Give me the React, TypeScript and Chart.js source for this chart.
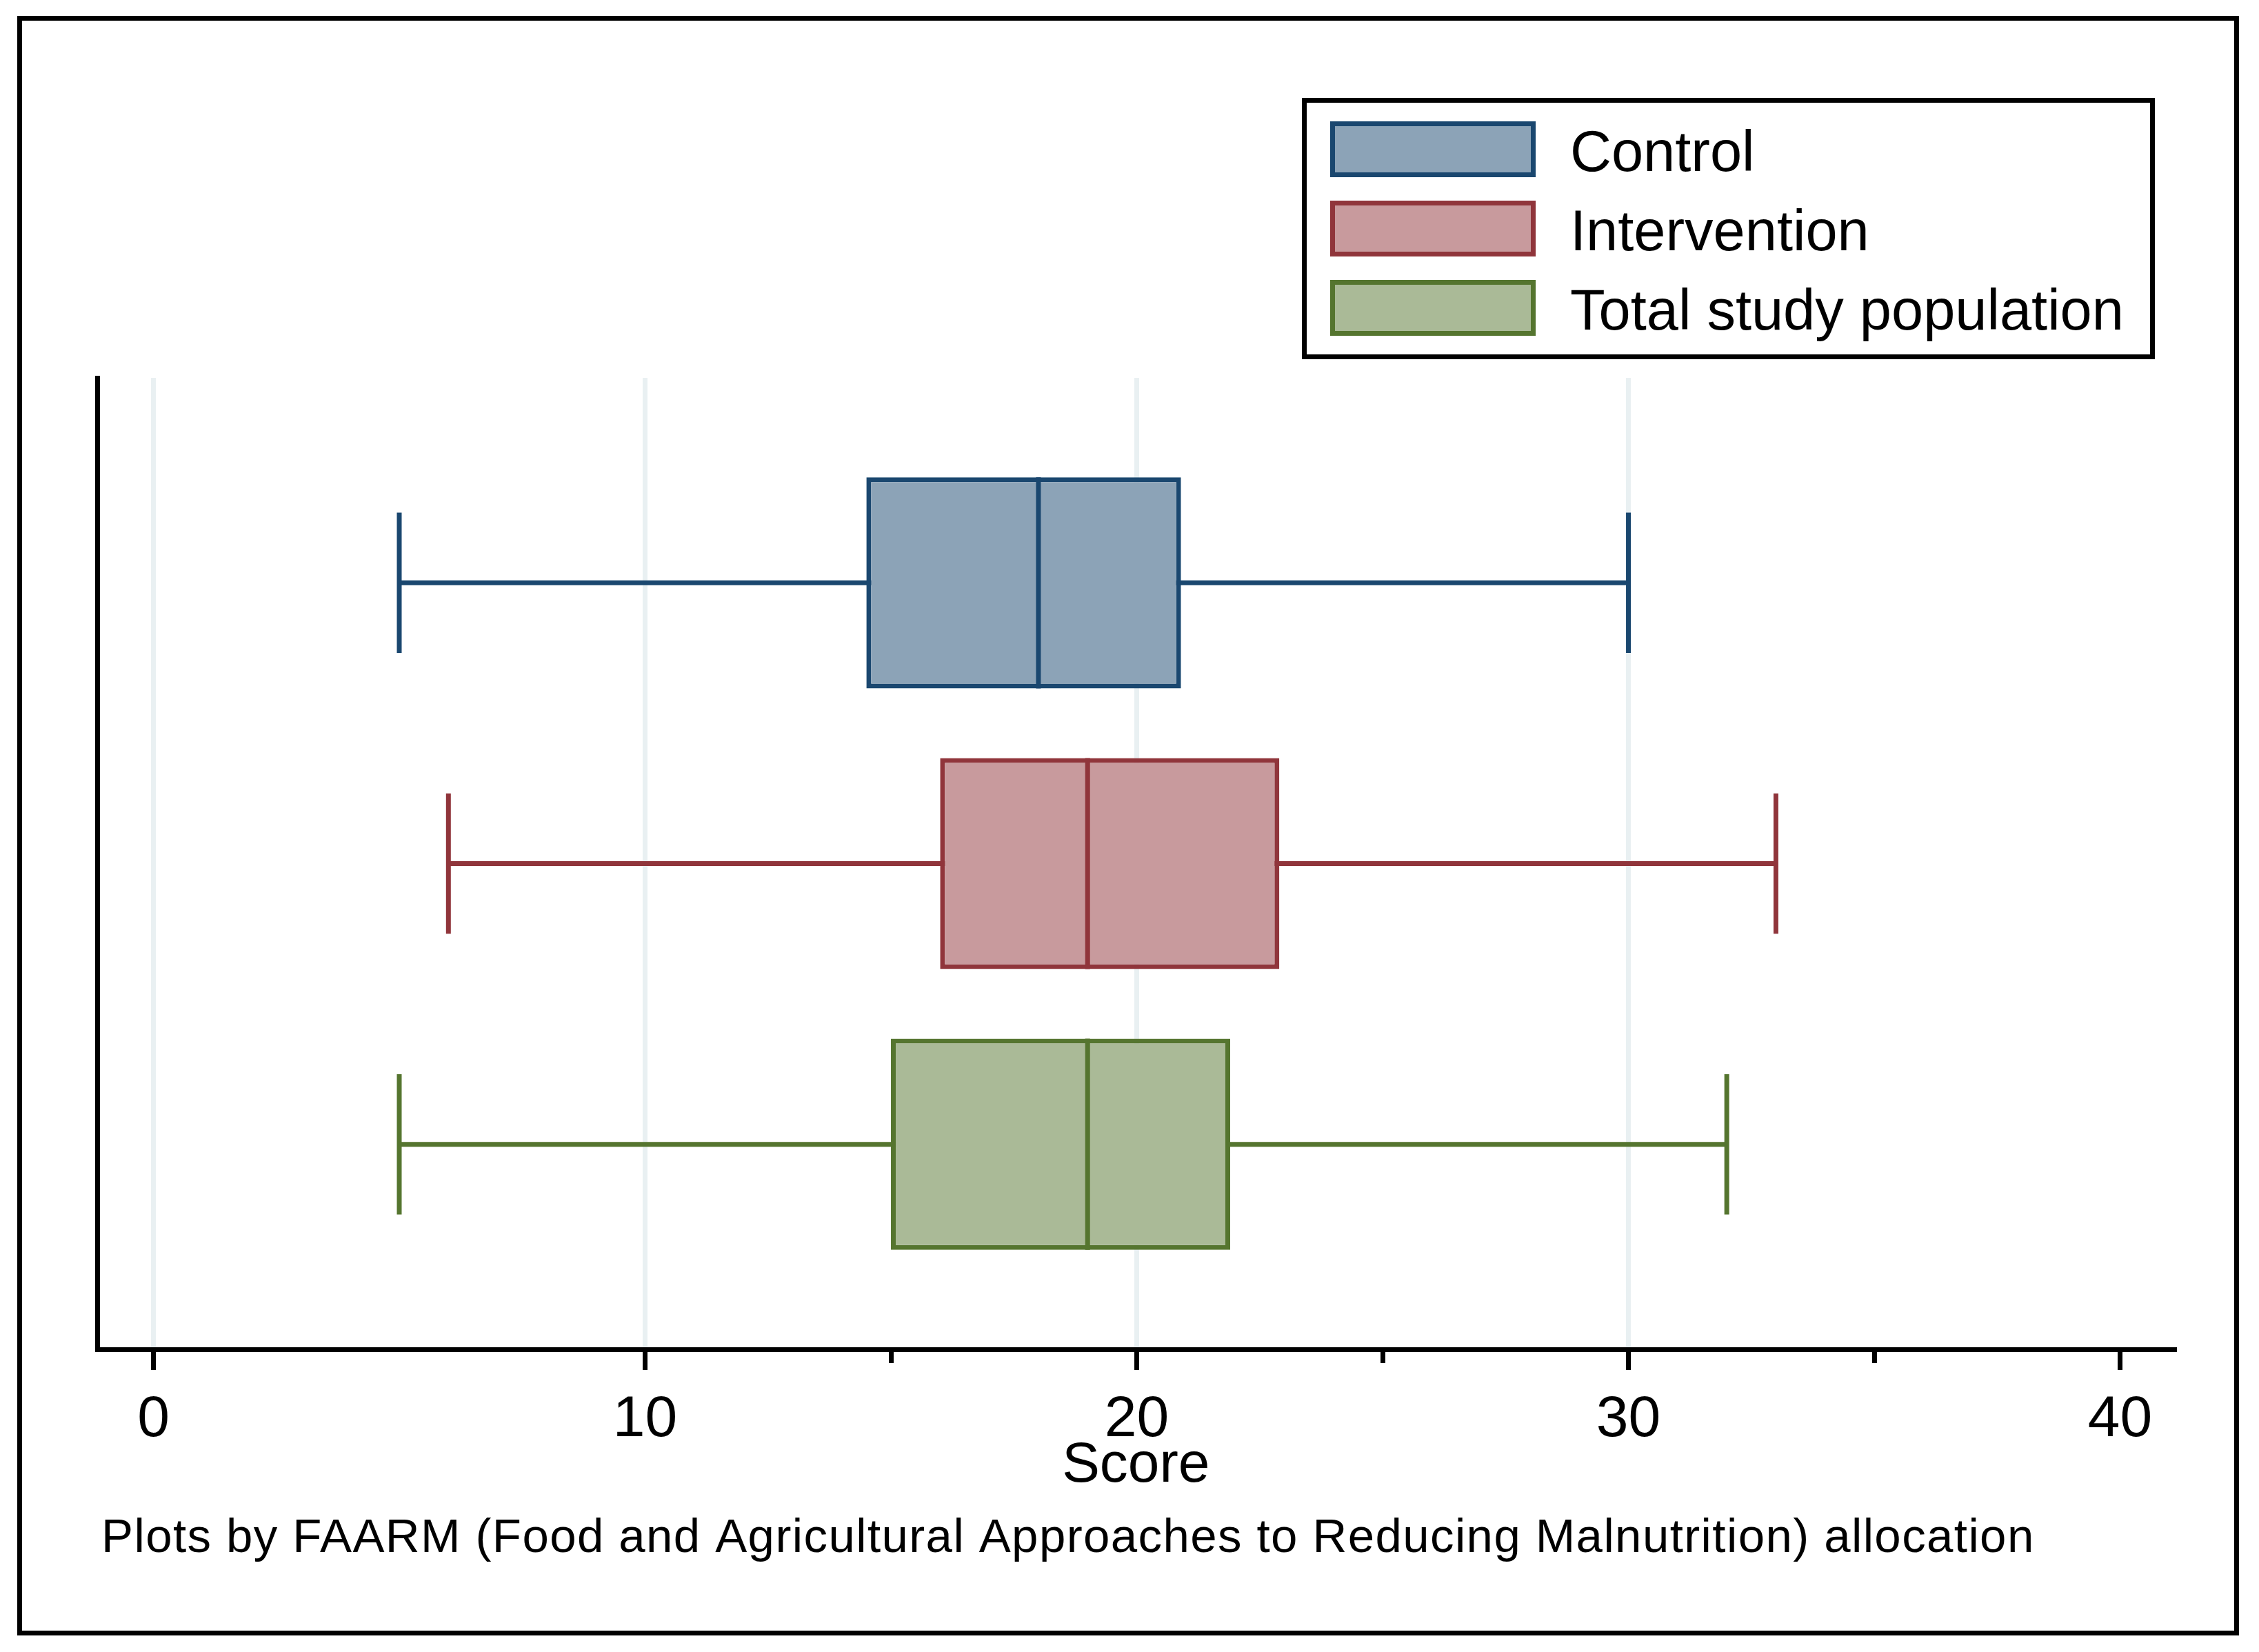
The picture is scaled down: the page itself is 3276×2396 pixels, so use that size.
import React, { useEffect, useRef } from 'react';
import { Chart, registerables } from 'chart.js';

Chart.register(...registerables);

// ---- data ----
const groups = ['Control', 'Intervention', 'Total study population'];
const rowPositions = [1, 2, 3];
const mins = [5, 6, 5];
const q1s = [14.5, 16, 15];
const medians = [18, 19, 19];
const q3s = [20.9, 22.9, 21.9];
const maxs = [30, 33, 32];
const majorTicks = [0, 10, 20, 30, 40];
const gridTicks = [0, 10, 20, 30];
const minorTicks = [15, 25, 35];
const xTitle = 'Score';
const caption = 'Plots by FAARM (Food and Agricultural Approaches to Reducing Malnutrition) allocation';

// ---- styles ----
const lineColors = ['#1A476F', '#90353B', '#55752F'];
const fillColors = ['#8CA3B7', '#C89A9D', '#AABA97'];
const GRID = '#E9F0F2';
const FONT = '"Liberation Sans", Arial, sans-serif';
const LW = 7;
const CAP = 0.25;
const HALF_BOX = 0.376;

const overlayPlugin = {
  id: 'stataOverlay',
  afterDraw(chart: any) {
    const ctx = chart.ctx as CanvasRenderingContext2D;
    ctx.save();
    ctx.strokeStyle = '#000';
    ctx.lineWidth = LW;
    // outer frame
    ctx.strokeRect(28.5, 26.5, 3215, 2342);
    // legend box
    ctx.strokeRect(1891.5, 145.5, 1230, 372);
    groups.forEach((g, i) => {
      const cy = 216.5 + i * 115;
      ctx.fillStyle = lineColors[i];
      ctx.fillRect(1929, cy - 40.5, 298, 81);
      ctx.fillStyle = fillColors[i];
      ctx.fillRect(1936, cy - 33.5, 284, 67);
      ctx.fillStyle = '#000';
      ctx.font = `83px ${FONT}`;
      ctx.textBaseline = 'alphabetic';
      ctx.textAlign = 'left';
      ctx.fillText(g, 2277, cy + 31);
    });
    ctx.font = `69px ${FONT}`;
    (ctx as any).letterSpacing = '1.4px';
    ctx.fillStyle = '#000';
    ctx.textAlign = 'left';
    ctx.textBaseline = 'alphabetic';
    ctx.fillText(caption, 147, 2251);
    ctx.restore();
  },
};

export default function App() {
  const ref = useRef<HTMLCanvasElement | null>(null);

  useEffect(() => {
    document.body.style.margin = '0';
    if (!ref.current) return;

    const whiskerSets = groups.map((g, i) => ({
      type: 'line' as const,
      label: g + ' whiskers',
      order: 3,
      data: [
        { x: mins[i], y: rowPositions[i] - CAP },
        { x: mins[i], y: rowPositions[i] + CAP },
        { x: mins[i], y: rowPositions[i] },
        { x: maxs[i], y: rowPositions[i] },
        { x: maxs[i], y: rowPositions[i] - CAP },
        { x: maxs[i], y: rowPositions[i] + CAP },
      ],
      borderColor: lineColors[i],
      borderWidth: LW,
      pointRadius: 0,
      fill: false,
      tension: 0,
      xAxisID: 'x',
      yAxisID: 'y',
    }));

    const medianSets = groups.map((g, i) => ({
      type: 'line' as const,
      label: g + ' median',
      order: 1,
      data: [
        { x: medians[i], y: rowPositions[i] - HALF_BOX },
        { x: medians[i], y: rowPositions[i] + HALF_BOX },
      ],
      borderColor: lineColors[i],
      borderWidth: LW,
      pointRadius: 0,
      fill: false,
      tension: 0,
      xAxisID: 'x',
      yAxisID: 'y',
    }));

    const boxSet = {
      type: 'bar' as const,
      label: 'boxes',
      order: 2,
      indexAxis: 'y' as const,
      data: groups.map((g, i) => ({ x: [q1s[i], q3s[i]], y: rowPositions[i] })),
      backgroundColor: fillColors,
      borderColor: lineColors,
      borderWidth: LW,
      borderSkipped: false,
      barPercentage: 0.752,
      categoryPercentage: 1,
      grouped: false,
      xAxisID: 'x',
      yAxisID: 'y',
    };

    const chart = new Chart(ref.current, {
      type: 'bar',
      data: { datasets: [...medianSets, boxSet, ...whiskerSets] as any },
      plugins: [overlayPlugin],
      options: {
        animation: false,
        responsive: false,
        maintainAspectRatio: false,
        devicePixelRatio: 1,
        layout: { padding: { top: 548, left: 141.5, right: 123, bottom: 220 } },
        plugins: {
          legend: { display: false },
          tooltip: { enabled: false },
          title: { display: false },
        },
        scales: {
          x: {
            type: 'linear',
            position: 'bottom',
            offset: false,
            min: -1.136,
            max: 41.1,
            afterBuildTicks: (s: any) => {
              s.ticks = [...majorTicks, ...minorTicks].sort((a, b) => a - b).map((v) => ({ value: v }));
            },
            afterFit: (s: any) => {
              s.height = 219;
            },
            ticks: {
              callback: (v: any) => (majorTicks.includes(Number(v)) ? String(v) : ''),
              font: { family: FONT, size: 84 },
              color: '#000',
              padding: 22,
              maxRotation: 0,
              autoSkip: false,
            },
            grid: {
              offset: false,
              color: (c: any) => (c.tick && gridTicks.includes(c.tick.value) ? GRID : 'rgba(0,0,0,0)'),
              lineWidth: LW,
              tickColor: '#000',
              tickWidth: LW,
              tickLength: 30,
              tickBorderDash: (c: any) => (c.tick && minorTicks.includes(c.tick.value) ? [16, 200] : []),
            },
            border: { display: true, color: '#000', width: LW },
            title: {
              display: true,
              text: xTitle,
              font: { family: FONT, size: 82 },
              color: '#000',
              padding: { top: 0, bottom: 0 },
            },
          },
          y: {
            type: 'linear',
            position: 'left',
            offset: false,
            beginAtZero: false,
            min: 0.27,
            max: 3.73,
            reverse: true,
            afterBuildTicks: (s: any) => {
              s.ticks = rowPositions.map((v) => ({ value: v }));
            },
            ticks: { display: false },
            grid: { display: false, drawTicks: false, offset: false },
            border: { display: true, color: '#000', width: LW },
          },
        },
      } as any,
    });

    return () => chart.destroy();
  }, []);

  return (
    <canvas
      ref={ref}
      width={3276}
      height={2396}
      style={{ display: 'block', width: '3276px', height: '2396px' }}
    />
  );
}
